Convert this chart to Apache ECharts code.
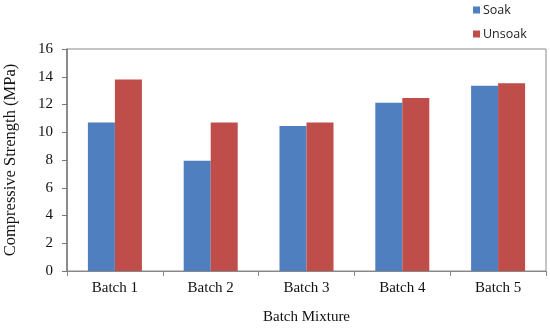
<!DOCTYPE html>
<html>
<head>
<meta charset="utf-8">
<script src="https://cdn.jsdelivr.net/npm/echarts@6/dist/echarts.min.js"></script>
<style>html,body{margin:0;padding:0;background:#fff}#c{width:550px;height:328px}</style>
</head>
<body>
<div id="c"></div>
<script>
const categories = ["Batch 1", "Batch 2", "Batch 3", "Batch 4", "Batch 5"];
const soak = [10.7, 7.95, 10.45, 12.13, 13.35];
const unsoak = [13.8, 10.7, 10.7, 12.47, 13.53];
const yTicks = [0, 2, 4, 6, 8, 10, 12, 14, 16];

const chart = echarts.init(document.getElementById('c'), null, {renderer: 'canvas'});
const serif = '"Liberation Serif", "DejaVu Serif", serif';
chart.setOption({
  animation: false,
  backgroundColor: '#fff',
  grid: {left: 67, right: 4, top: 49, bottom: 57, show: true, borderColor: '#8a8a8a', borderWidth: 1,
         containLabel: false, outerBoundsMode: 'none'},
  legend: {
    orient: 'vertical', left: 473, top: 3, padding: 0, itemWidth: 7, itemHeight: 7, itemGap: 10,
    icon: 'rect',
    textStyle: {fontFamily: '"Open Sans", "Liberation Sans", sans-serif', fontSize: 12.5, color: '#222', lineHeight: 14,
                padding: [0, 0, 0, -2]},
    data: ['Soak', 'Unsoak']
  },
  xAxis: {
    type: 'category', data: categories,
    name: 'Batch Mixture', nameLocation: 'middle', nameGap: 39,
    nameTextStyle: {fontFamily: serif, fontSize: 15, color: '#111'},
    axisLine: {lineStyle: {color: '#888', width: 1}},
    axisTick: {show: true, inside: false, length: 5, alignWithLabel: false, lineStyle: {color: '#888'}},
    axisLabel: {fontFamily: serif, fontSize: 15, color: '#111', margin: 10}
  },
  yAxis: {
    type: 'value', min: yTicks[0], max: yTicks[yTicks.length - 1], interval: 2,
    name: 'Compressive Strength (MPa)', nameLocation: 'middle', nameGap: 48, nameRotate: 90,
    nameTextStyle: {fontFamily: serif, fontSize: 16.5, color: '#111'},
    axisLine: {show: true, lineStyle: {color: '#777', width: 1.5}},
    axisTick: {show: true, length: 5, lineStyle: {color: '#777'}},
    splitLine: {show: false},
    axisLabel: {fontFamily: serif, fontSize: 15, color: '#111', margin: 14}
  },
  series: [
    {name: 'Soak', type: 'bar', data: soak, barWidth: 27, barGap: '0%', itemStyle: {color: '#4F7FBE'}},
    {name: 'Unsoak', type: 'bar', data: unsoak, barWidth: 27, itemStyle: {color: '#BF4E4B'}}
  ]
});
</script>
</body>
</html>
